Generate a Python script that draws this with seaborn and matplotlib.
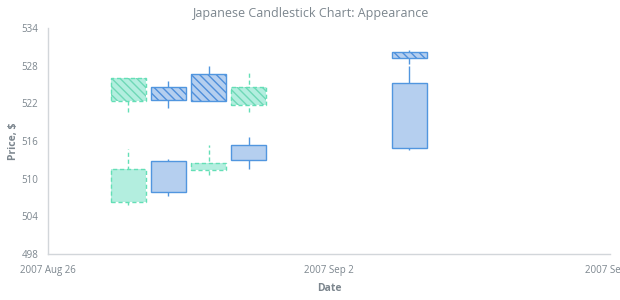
import numpy as np
import pandas as pd
import matplotlib
matplotlib.use("Agg")
import matplotlib.pyplot as plt
import seaborn as sns

# ---- data ----
dates = ["2007-08-28", "2007-08-29", "2007-08-30", "2007-08-31", "2007-09-04"]
s1_open = [522.4, 524.55, 526.7, 521.7, 530.2]
s1_high = [526.0, 525.6, 528.0, 526.9, 530.5]
s1_low = [520.6, 521.3, 522.4, 520.6, 528.3]
s1_close = [526.0, 522.6, 522.4, 524.55, 529.3]

s2_open = [506.3, 512.8, 511.4, 515.4, 525.3]
s2_high = [514.8, 513.2, 515.4, 516.6, 528.0]
s2_low = [505.8, 507.3, 510.6, 511.5, 514.6]
s2_close = [511.5, 507.8, 512.45, 513.0, 514.9]

x_ticks = ["2007-08-26", "2007-09-02", "2007-09-09"]
x_tick_labels = ["2007 Aug 26", "2007 Sep 2", "2007 Sep 9"]
y_ticks = [498, 504, 510, 516, 522, 528, 534]

# ---- style ----
sns.set_theme(style="white")
plt.rcParams["font.family"] = ["Open Sans", "DejaVu Sans"]
plt.rcParams["hatch.linewidth"] = 1.0

TXT = "#7c868e"
AX = "#d2d6da"
GREEN_FILL = "#b3eedf"
GREEN_EDGE = "#64dfb6"
GREEN_HATCH = "#6fd8b6"
BLUE_FILL = "#b5cfef"
BLUE_EDGE = "#5196df"
BLUE_HATCH = "#4f8fdb"

fig = plt.figure(figsize=(6.2, 3.0), dpi=100)
ax = fig.add_axes([48 / 620, 46 / 300, 562 / 620, 226 / 300])

x = pd.to_datetime(dates)
W = 0.87
HATCH = "\\" * 4


def draw_series(o, h, l, c, hatched):
    o, h, l, c = map(np.asarray, (o, h, l, c))
    rising = c >= o
    for mask, fill, edge, hcol, ls in (
        (rising, GREEN_FILL, GREEN_EDGE, GREEN_HATCH, (0, (3, 2))),
        (~rising, BLUE_FILL, BLUE_EDGE, BLUE_HATCH, "solid"),
    ):
        if not mask.any():
            continue
        xs = x[mask]
        lo = np.minimum(o, c)[mask]
        hi = np.maximum(o, c)[mask]
        ax.vlines(xs, l[mask], h[mask], colors=edge, linewidth=1.0,
                  linestyles=ls, zorder=1)
        ax.bar(xs, hi - lo, bottom=lo, width=W, color=fill,
               edgecolor=hcol if hatched else fill, linewidth=0,
               hatch=HATCH if hatched else None, zorder=2)
        ax.bar(xs, hi - lo, bottom=lo, width=W, fill=False,
               edgecolor=edge, linewidth=1.0, linestyle=ls, zorder=3)


draw_series(s1_open, s1_high, s1_low, s1_close, hatched=True)
draw_series(s2_open, s2_high, s2_low, s2_close, hatched=False)

ax.set_xlim(pd.Timestamp(x_ticks[0]), pd.Timestamp(x_ticks[-1]))
ax.set_ylim(y_ticks[0], y_ticks[-1])
ax.set_xticks(pd.to_datetime(x_ticks))
ax.set_xticklabels(x_tick_labels)
ax.set_yticks(y_ticks)

sns.despine(ax=ax)
for s in ("left", "bottom"):
    ax.spines[s].set_color(AX)
    ax.spines[s].set_linewidth(1.0)
ax.tick_params(axis="both", colors=AX, labelcolor=TXT, labelsize=7,
               length=4, width=1, pad=3, direction="out")
ax.tick_params(axis="x", pad=4)
ax.grid(False)

ax.set_ylabel("Price, $", color=TXT, fontsize=7.5, fontweight="bold", labelpad=2)
ax.set_xlabel("Date", color=TXT, fontsize=7.5, fontweight="bold", labelpad=5)
fig.text(0.5, 1 - 14 / 300, "Japanese Candlestick Chart: Appearance",
         ha="center", va="center", color=TXT, fontsize=9)

fig.savefig("out.png", dpi=100, facecolor="white")
